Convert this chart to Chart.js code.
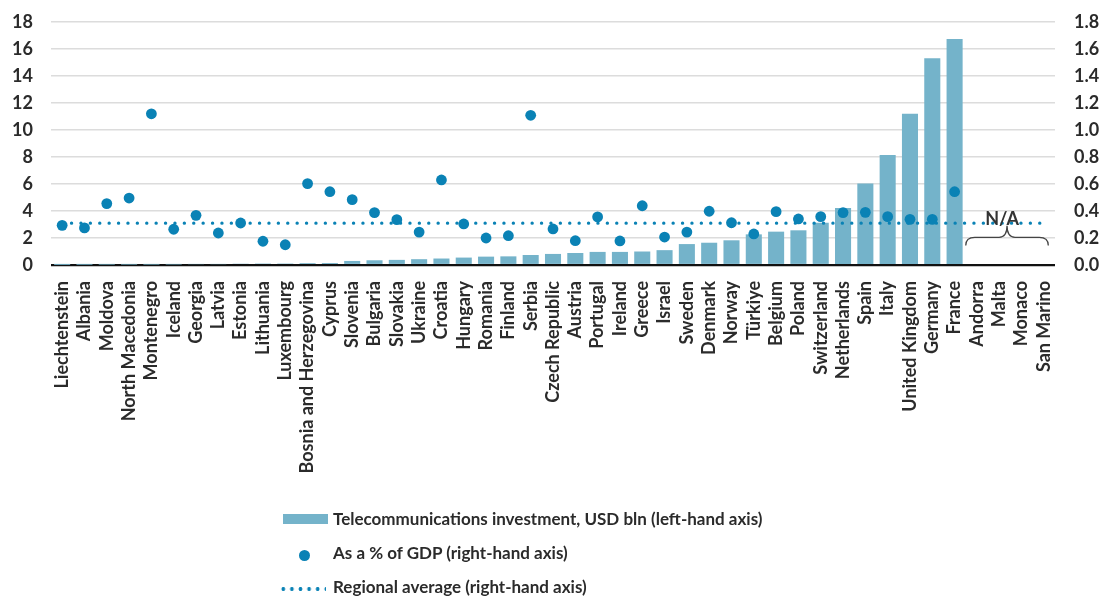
<!DOCTYPE html>
<html>
<head>
<meta charset="utf-8">
<script src="https://cdn.jsdelivr.net/npm/chart.js@4.4.1/dist/chart.umd.min.js"></script>
<style>
  html, body { margin: 0; padding: 0; background: #fff; }
  #wrap { position: relative; width: 1105px; height: 598px; overflow: hidden; }
  #c { position: absolute; left: 0; top: 0; }
  .leg { position: absolute; left: 0; font-family: Lato, "Open Sans", sans-serif; font-weight: 700; font-size: 17px; color: #2b2b2b; white-space: nowrap; }
  .legtext { position: absolute; left: 333px; line-height: 20px; }
</style>
</head>
<body>
<div id="wrap">
  <canvas id="c" width="1105" height="598"></canvas>
  <div class="leg" style="top:509px;">
    <div style="position:absolute;left:283px;top:5px;width:45px;height:10px;background:#74b3ca;"></div>
    <div class="legtext" style="top:0;">Telecommunications investment, USD bln (left-hand axis)</div>
  </div>
  <div class="leg" style="top:543px;">
    <div style="position:absolute;left:298.5px;top:7px;width:11px;height:11px;border-radius:50%;background:#0a82b5;"></div>
    <div class="legtext" style="top:0;">As a % of GDP (right-hand axis)</div>
  </div>
  <div class="leg" style="top:577px;">
    <div style="position:absolute;left:279px;top:10px;width:47px;height:4px;background:radial-gradient(circle, #0a82b5 1.7px, rgba(255,255,255,0) 2.1px) repeat-x;background-size:8.6px 4px;"></div>
    <div class="legtext" style="top:0;">Regional average (right-hand axis)</div>
  </div>
</div>
<script>
const categories = ["Liechtenstein","Albania","Moldova","North Macedonia","Montenegro","Iceland","Georgia","Latvia","Estonia","Lithuania","Luxembourg","Bosnia and Herzegovina","Cyprus","Slovenia","Bulgaria","Slovakia","Ukraine","Croatia","Hungary","Romania","Finland","Serbia","Czech Republic","Austria","Portugal","Ireland","Greece","Israel","Sweden","Denmark","Norway","Türkiye","Belgium","Poland","Switzerland","Netherlands","Spain","Italy","United Kingdom","Germany","France","Andorra","Malta","Monaco","San Marino"];

const investmentUsdBln = [0.01,0.02,0.03,0.03,0.03,0.04,0.06,0.06,0.10,0.11,0.11,0.14,0.15,0.30,0.35,0.38,0.43,0.48,0.55,0.62,0.64,0.74,0.82,0.89,0.97,0.97,1.00,1.10,1.55,1.65,1.83,2.27,2.47,2.57,3.13,4.22,6.03,8.15,11.2,15.31,16.74,null,null,null,null];

const shareOfGdp = [0.294,0.275,0.455,0.496,1.12,0.265,0.368,0.237,0.311,0.176,0.15,0.603,0.543,0.484,0.388,0.336,0.244,0.63,0.304,0.2,0.217,1.109,0.267,0.18,0.356,0.178,0.439,0.207,0.244,0.398,0.313,0.23,0.395,0.341,0.358,0.388,0.39,0.358,0.338,0.338,0.543,null,null,null,null];

const regionalAverage = 0.31;
const regionalAverageSeries = categories.map(() => regionalAverage);

const leftTicks = [0,2,4,6,8,10,12,14,16,18];
const rightTicks = [0,0.2,0.4,0.6,0.8,1.0,1.2,1.4,1.6,1.8];
const naCategories = ["Andorra","Malta","Monaco","San Marino"];
const naLabel = "N/A";

const FONT = 'Lato, "Open Sans", sans-serif';
const TXT = '#2b2b2b';

const naPlugin = {
  id: 'naBrace',
  afterDatasetsDraw(chart) {
    const x = chart.scales.x, y = chart.scales.y1;
    const ctx = chart.ctx;
    const first = categories.indexOf(naCategories[0]);
    const last = categories.indexOf(naCategories[naCategories.length - 1]);
    const w = x.getPixelForValue(1) - x.getPixelForValue(0);
    const L = x.getPixelForValue(first) - w * 0.5;
    const R = x.getPixelForValue(last) + w * 0.2;
    const P = (L + R) / 2;
    const yTip = y.getPixelForValue(0.29);
    const yMid = y.getPixelForValue(0.205);
    const yEnd = y.getPixelForValue(0.145);
    ctx.save();
    ctx.strokeStyle = '#444';
    ctx.lineWidth = 1.3;
    ctx.beginPath();
    ctx.moveTo(L, yEnd);
    ctx.quadraticCurveTo(L, yMid, L + 9, yMid);
    ctx.lineTo(P - 8, yMid);
    ctx.quadraticCurveTo(P, yMid, P, yTip);
    ctx.quadraticCurveTo(P, yMid, P + 8, yMid);
    ctx.lineTo(R - 9, yMid);
    ctx.quadraticCurveTo(R, yMid, R, yEnd);
    ctx.stroke();
    ctx.fillStyle = '#333';
    ctx.font = 'bold 18px ' + FONT;
    ctx.textAlign = 'center';
    ctx.textBaseline = 'alphabetic';
    ctx.fillText(naLabel, P - 5, y.getPixelForValue(0.295));
    ctx.restore();
  }
};

new Chart(document.getElementById('c'), {
  type: 'bar',
  data: {
    labels: categories,
    datasets: [
      {
        type: 'line',
        label: 'As a % of GDP (right-hand axis)',
        data: shareOfGdp,
        yAxisID: 'y1',
        showLine: false,
        pointRadius: 5.4,
        pointHoverRadius: 5.4,
        pointBackgroundColor: '#0a82b5',
        pointBorderWidth: 0,
        borderColor: '#0a82b5',
        order: 0
      },
      {
        type: 'line',
        label: 'Regional average (right-hand axis)',
        data: regionalAverageSeries,
        yAxisID: 'y1',
        borderColor: '#0a82b5',
        borderWidth: 3.4,
        borderDash: [0, 9.4],
        borderCapStyle: 'round',
        pointRadius: 0,
        fill: false,
        order: 1
      },
      {
        type: 'bar',
        label: 'Telecommunications investment, USD bln (left-hand axis)',
        data: investmentUsdBln,
        yAxisID: 'y',
        backgroundColor: '#74b3ca',
        barPercentage: 0.72,
        categoryPercentage: 1.0,
        order: 2
      }
    ]
  },
  options: {
    responsive: false,
    animation: false,
    events: [],
    layout: { padding: { top: 22, bottom: 103, left: 0, right: 0 } },
    plugins: { legend: { display: false }, tooltip: { enabled: false } },
    scales: {
      x: {
        offset: true,
        grid: { display: false, drawTicks: false },
        border: { display: false },
        ticks: {
          autoSkip: false, minRotation: 90, maxRotation: 90, padding: 16,
          color: TXT, font: { family: FONT, size: 18, weight: '700' }
        },
        afterFit(s) { s.height = 230; s.paddingLeft = 0; s.paddingRight = 0; }
      },
      y: {
        position: 'left',
        min: 0, max: 18,
        afterBuildTicks(s) { s.ticks = leftTicks.map(v => ({ value: v })); },
        grid: {
          drawTicks: false,
          color: c => c.tick && c.tick.value === 0 ? '#111' : '#dcdcdc',
          lineWidth: c => c.tick && c.tick.value === 0 ? 2.2 : 1.5
        },
        border: { display: false },
        ticks: { padding: 18, color: TXT, font: { family: FONT, size: 18, weight: '700' } },
        afterFit(s) { s.width = 51; s.paddingTop = 0; s.paddingBottom = 0; }
      },
      y1: {
        position: 'right',
        min: 0, max: 1.8,
        afterBuildTicks(s) { s.ticks = rightTicks.map(v => ({ value: v })); },
        grid: { display: false, drawTicks: false },
        border: { display: false },
        ticks: {
          padding: 19, color: TXT, font: { family: FONT, size: 18, weight: '700' },
          callback: v => Number(v).toFixed(1)
        },
        afterFit(s) { s.width = 50; s.paddingTop = 0; s.paddingBottom = 0; }
      }
    }
  },
  plugins: [naPlugin]
});
</script>
</body>
</html>
